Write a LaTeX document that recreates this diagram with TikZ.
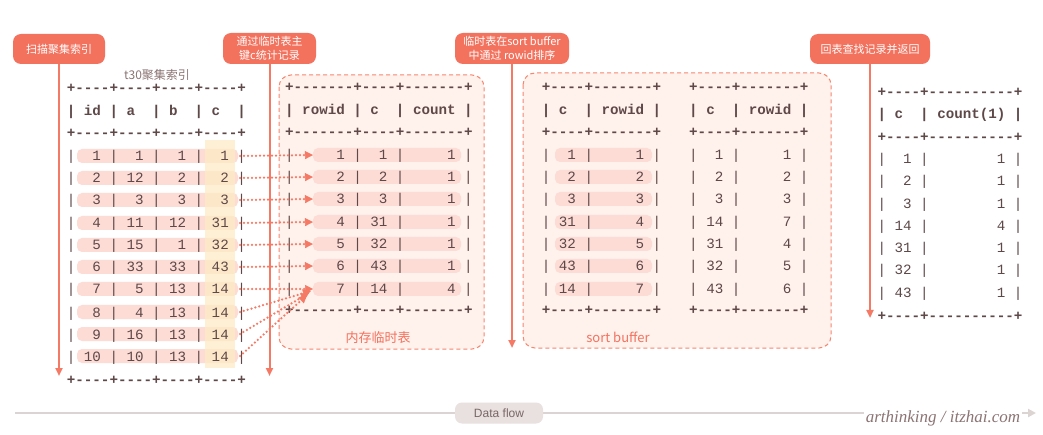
\documentclass[tikz,border=0pt]{standalone}
\usepackage{fontspec}
\setmonofont{Liberation Mono}
\newfontfamily\cjk{Noto Sans CJK SC}
\newfontfamily\wmfont{Liberation Serif}
\usetikzlibrary{arrows.meta}
\definecolor{coral}{HTML}{F3725E}
\definecolor{coralline}{HTML}{F57A66}
\definecolor{rowpink}{HTML}{FDDCD5}
\definecolor{colyel}{HTML}{FEEBC6}
\definecolor{boxfill}{HTML}{FFF1EC}
\definecolor{boxedge}{HTML}{F7866F}
\definecolor{tabtxt}{HTML}{5E4848}
\definecolor{titletxt}{HTML}{8C7474}
\definecolor{flowline}{HTML}{DCD4D2}
\definecolor{flowfill}{HTML}{E8E1DF}
\definecolor{flowtxt}{HTML}{7A6666}
\newcommand{\tabfont}{\fontsize{14.2}{16}\selectfont\ttfamily}
\begin{document}
\begin{tikzpicture}[x=1pt,y=-1pt,
  tline/.style={anchor=base west,inner sep=0pt,font=\tabfont,text=tabtxt},
  hline/.style={tline,font=\tabfont\bfseries},
  stepbox/.style={fill=coral,rounded corners=8pt,text=white,font=\cjk\fontsize{11}{14}\selectfont,align=center,inner sep=0pt},
  flowarrow/.style={draw=coralline,line width=2pt,-{Triangle[length=8pt,width=7pt]}},
  dotarrow/.style={draw=coralline,line width=2.5pt,dash pattern=on 0pt off 4pt,line cap=round,-{Triangle[length=8pt,width=8pt,fill=coralline,line width=0.5pt]}},
  membox/.style={draw=boxedge,fill=boxfill,dashed,dash pattern=on 4pt off 3pt,line width=1pt,rounded corners=12pt},
  boxlabel/.style={text=coral,font=\cjk\fontsize{13}{15}\selectfont,inner sep=0pt}]
\useasboundingbox (0,0) rectangle (1043,435);
\fill[white] (0,0) rectangle (1043,435);

% dashed memory boxes
\draw[membox] (279,75) rectangle (484,349);
\draw[membox] (523,73) rectangle (831,348);
\node[boxlabel] (memlbl) at (378,338) {内存临时表};
\node[boxlabel,font=\cjk\fontsize{13}{15}\selectfont] (sblbl) at (618,337) {sort buffer};

% step boxes
\node[stepbox,minimum width=92pt,minimum height=30pt] (s1) at (59,49) {扫描聚集索引};
\node[stepbox,minimum width=93pt,minimum height=31pt] (s2) at (269.5,48.5) {通过临时表主\\键c统计记录};
\node[stepbox,minimum width=114pt,minimum height=31pt] (s3) at (512,48.5) {临时表在sort buffer\\中通过 rowid排序};
\node[stepbox,minimum width=120pt,minimum height=30pt] (s4) at (870,49) {回表查找记录并返回};
\coordinate (e1) at (59,376);
\coordinate (e2) at (269.5,376);
\coordinate (e3) at (512,348);
\coordinate (e4) at (870,318);
\draw[flowarrow] (s1.south) -- (e1);
\draw[flowarrow] (s2.south) -- (e2);
\draw[flowarrow] (s3.south) -- (e3);
\draw[flowarrow] (s4.south) -- (e4);

% highlights table 1
\foreach \y in {156,178,200,223,245,267,289,312,334,356}
  \fill[rowpink,rounded corners=5pt] (77,\y-7) rectangle (238,\y+7);
\fill[colyel,opacity=0.75] (205,140) rectangle (235,368);
% highlights table 2
\foreach \y in {155,177,199,222,244,266,289}
  \fill[rowpink,rounded corners=5pt] (313,\y-7) rectangle (461,\y+7);
% highlights table 3A
\foreach \y in {155,177,199,222,244,266,289}
  \fill[rowpink,rounded corners=5pt] (555,\y-7) rectangle (652,\y+7);

% table 1
\node[text=titletxt,font=\cjk\fontsize{12}{14}\selectfont,inner sep=0pt] (t1title) at (157,75) {t30聚集索引};
\node[hline] (a0) at (66.7,93) {+----+----+----+----+};
\node[hline] (a1) at (66.7,116) {|~id~|~a~~|~b~~|~c~~|};
\node[hline] (a2) at (66.7,138) {+----+----+----+----+};
\node[tline] (a3) at (66.7,161) {|~~1~|~~1~|~~1~|~~1~|};
\node[tline] (a4) at (66.7,183) {|~~2~|~12~|~~2~|~~2~|};
\node[tline] (a5) at (66.7,205) {|~~3~|~~3~|~~3~|~~3~|};
\node[tline] (a6) at (66.7,228) {|~~4~|~11~|~12~|~31~|};
\node[tline] (a7) at (66.7,250) {|~~5~|~15~|~~1~|~32~|};
\node[tline] (a8) at (66.7,272) {|~~6~|~33~|~33~|~43~|};
\node[tline] (a9) at (66.7,294) {|~~7~|~~5~|~13~|~14~|};
\node[tline] (a10) at (66.7,317) {|~~8~|~~4~|~13~|~14~|};
\node[tline] (a11) at (66.7,339) {|~~9~|~16~|~13~|~14~|};
\node[tline] (a12) at (66.7,361) {|~10~|~10~|~13~|~14~|};
\node[hline] (a13) at (66.7,384) {+----+----+----+----+};

% table 2
\node[hline] (b0) at (285,92) {+-------+----+-------+};
\node[hline] (b1) at (285,115) {|~rowid~|~c~~|~count~|};
\node[hline] (b2) at (285,137) {+-------+----+-------+};
\node[tline] (b3) at (285,160) {|~~~~~1~|~~1~|~~~~~1~|};
\node[tline] (b4) at (285,182) {|~~~~~2~|~~2~|~~~~~1~|};
\node[tline] (b5) at (285,204) {|~~~~~3~|~~3~|~~~~~1~|};
\node[tline] (b6) at (285,227) {|~~~~~4~|~31~|~~~~~1~|};
\node[tline] (b7) at (285,249) {|~~~~~5~|~32~|~~~~~1~|};
\node[tline] (b8) at (285,271) {|~~~~~6~|~43~|~~~~~1~|};
\node[tline] (b9) at (285,294) {|~~~~~7~|~14~|~~~~~4~|};
\node[hline] (b10) at (285,315) {+-------+----+-------+};

% table 3A
\node[hline] (c0) at (541.7,92) {+----+-------+};
\node[hline] (c1) at (541.7,115) {|~c~~|~rowid~|};
\node[hline] (c2) at (541.7,137) {+----+-------+};
\node[tline] (c3) at (541.7,160) {|~~1~|~~~~~1~|};
\node[tline] (c4) at (541.7,182) {|~~2~|~~~~~2~|};
\node[tline] (c5) at (541.7,204) {|~~3~|~~~~~3~|};
\node[tline] (c6) at (541.7,227) {|~31~|~~~~~4~|};
\node[tline] (c7) at (541.7,249) {|~32~|~~~~~5~|};
\node[tline] (c8) at (541.7,271) {|~43~|~~~~~6~|};
\node[tline] (c9) at (541.7,294) {|~14~|~~~~~7~|};
\node[hline] (c10) at (541.7,315) {+----+-------+};

% table 3B
\node[hline] (d0) at (689,92) {+----+-------+};
\node[hline] (d1) at (689,115) {|~c~~|~rowid~|};
\node[hline] (d2) at (689,137) {+----+-------+};
\node[tline] (d3) at (689,160) {|~~1~|~~~~~1~|};
\node[tline] (d4) at (689,182) {|~~2~|~~~~~2~|};
\node[tline] (d5) at (689,204) {|~~3~|~~~~~3~|};
\node[tline] (d6) at (689,227) {|~14~|~~~~~7~|};
\node[tline] (d7) at (689,249) {|~31~|~~~~~4~|};
\node[tline] (d8) at (689,271) {|~32~|~~~~~5~|};
\node[tline] (d9) at (689,294) {|~43~|~~~~~6~|};
\node[hline] (d10) at (689,315) {+----+-------+};

% table 4
\node[hline] (f0) at (877.4,97) {+----+----------+};
\node[hline] (f1) at (877.4,119) {|~c~~|~count(1)~|};
\node[hline] (f2) at (877.4,142) {+----+----------+};
\node[tline] (f3) at (877.4,164) {|~~1~|~~~~~~~~1~|};
\node[tline] (f4) at (877.4,186) {|~~2~|~~~~~~~~1~|};
\node[tline] (f5) at (877.4,209) {|~~3~|~~~~~~~~1~|};
\node[tline] (f6) at (877.4,231) {|~14~|~~~~~~~~4~|};
\node[tline] (f7) at (877.4,253) {|~31~|~~~~~~~~1~|};
\node[tline] (f8) at (877.4,275) {|~32~|~~~~~~~~1~|};
\node[tline] (f9) at (877.4,298) {|~43~|~~~~~~~~1~|};
\node[hline] (f10) at (877.4,320) {+----+----------+};

% dotted arrows
\foreach \i/\ya/\yb in {1/156/155,2/178/177,3/200/199,4/223/222,5/245/244,6/267/266,7/289/289}{
  \coordinate (p\i) at (240,\ya);
  \coordinate (q\i) at (313,\yb);
  \draw[dotarrow] (p\i) -- (q\i);
}
\coordinate (p8) at (240,312);
\coordinate (p9) at (240,334);
\coordinate (p10) at (240,356);
\coordinate (q8) at (311,291);
\coordinate (q9) at (309,293);
\coordinate (q10) at (307,295);
\draw[dotarrow] (p8) -- (q8);
\draw[dotarrow] (p9) -- (q9);
\draw[dotarrow] (p10) -- (q10);

% data flow
\coordinate (fl0) at (15,413);
\coordinate (fl1) at (1036,413);
\draw[flowline,line width=2pt,-{Triangle[length=8pt,width=8pt]}] (fl0) -- (fl1);
\node[fill=flowfill,rounded corners=7pt,minimum width=88pt,minimum height=21pt,inner sep=0pt,text=flowtxt,font=\fontspec{Liberation Sans}\fontsize{12}{14}\selectfont] (flow) at (499,413) {Data flow};
\node[fill=white,inner sep=2pt,text=titletxt,font=\wmfont\itshape\fontsize{17}{18}\selectfont] (wm) at (943,418) {arthinking / itzhai.com};
\end{tikzpicture}
\end{document}
